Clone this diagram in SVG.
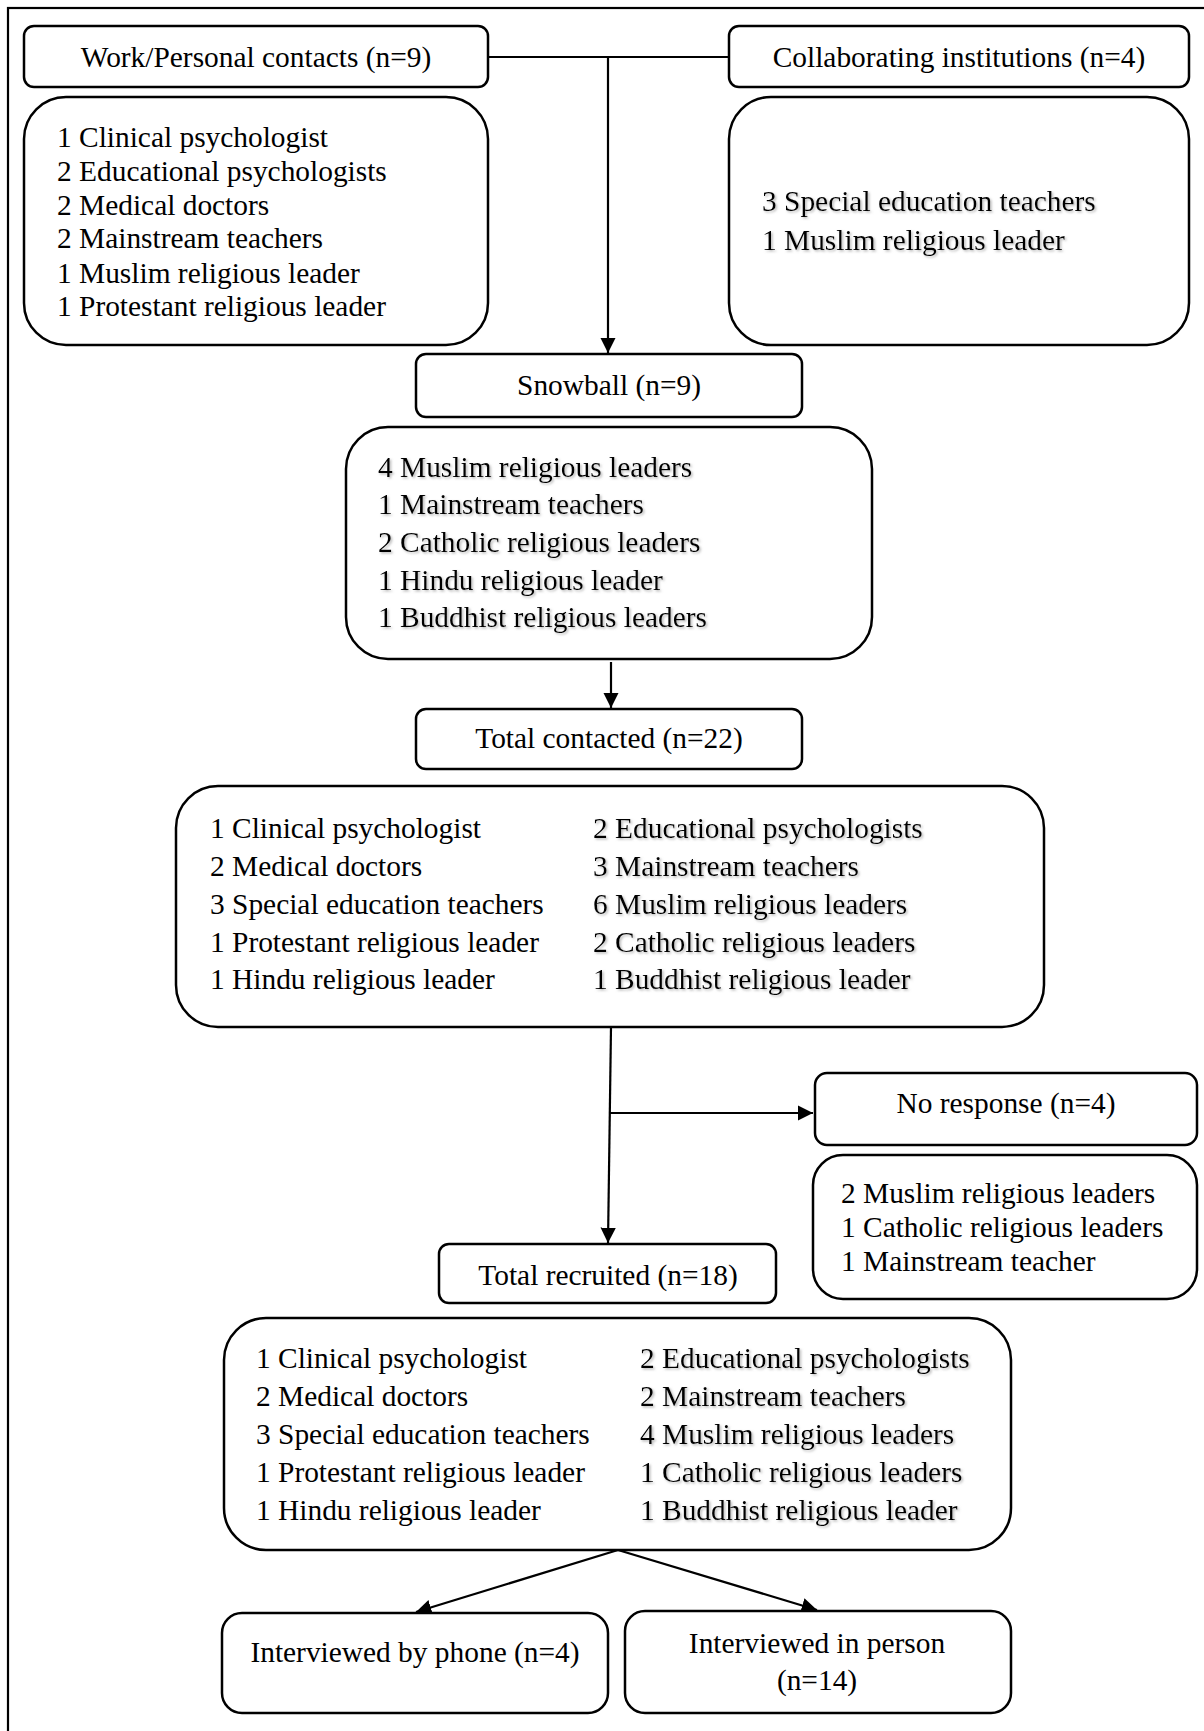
<svg xmlns="http://www.w3.org/2000/svg" width="1204" height="1731" viewBox="0 0 1204 1731">
<style>
.box{fill:#fff;stroke:#000;stroke-width:2.5}
.t{font-family:"Liberation Serif","Times New Roman",serif;font-size:29.4px;fill:#000}
.c{text-anchor:middle}
.ln{stroke:#000;stroke-width:2.2;fill:none}
.sh{filter:url(#shadow)}
</style>
<defs>
<marker id="arr" viewBox="0 0 10 10" refX="10" refY="5" markerWidth="7" markerHeight="7" markerUnits="strokeWidth" orient="auto">
<path d="M0,0 L10,5 L0,10 z" fill="#000"/>
</marker>
<filter id="shadow" x="-5%" y="-20%" width="110%" height="140%">
<feDropShadow dx="1.5" dy="1.5" stdDeviation="1.2" flood-color="#888" flood-opacity="0.6"/>
</filter>
</defs>
<rect x="8" y="8" width="1220" height="1750" fill="none" stroke="#000" stroke-width="2.2"/>

<g id="connectors">
<path class="ln" d="M489,57 H729"/>
<path class="ln" d="M608,57 V353" marker-end="url(#arr)"/>
<path class="ln" d="M611,662 V708" marker-end="url(#arr)"/>
<path class="ln" d="M611,1027 L608,1243" marker-end="url(#arr)"/>
<path class="ln" d="M610,1113 H813" marker-end="url(#arr)"/>
<path class="ln" d="M618,1550 L416,1612" marker-end="url(#arr)"/>
<path class="ln" d="M618,1550 L817,1610" marker-end="url(#arr)"/>
</g>

<g id="work-personal">
<rect class="box" x="24" y="26" width="464" height="61" rx="10"/>
<text class="t c" x="256" y="67">Work/Personal contacts (n=9)</text>
</g>
<g id="work-personal-list">
<rect class="box" x="24" y="97" width="464" height="248" rx="42"/>
<text class="t" x="57" y="147">1 Clinical psychologist</text>
<text class="t" x="57" y="181">2 Educational psychologists</text>
<text class="t" x="57" y="215">2 Medical doctors</text>
<text class="t" x="57" y="248">2 Mainstream teachers</text>
<text class="t" x="57" y="283">1 Muslim religious leader</text>
<text class="t" x="57" y="316">1 Protestant religious leader</text>
</g>

<g id="collaborating">
<rect class="box" x="729" y="26" width="460" height="61" rx="10"/>
<text class="t c" x="959" y="67">Collaborating institutions (n=4)</text>
</g>
<g id="collaborating-list">
<rect class="box" x="729" y="97" width="460" height="248" rx="42"/>
<g class="sh">
<text class="t" x="762" y="211">3 Special education teachers</text>
<text class="t" x="762" y="250">1 Muslim religious leader</text>
</g>
</g>

<g id="snowball">
<rect class="box" x="416" y="354" width="386" height="63" rx="10"/>
<text class="t c" x="609" y="395">Snowball (n=9)</text>
</g>
<g id="snowball-list">
<rect class="box" x="346" y="427" width="526" height="232" rx="42"/>
<g class="sh">
<text class="t" x="378" y="477">4 Muslim religious leaders</text>
<text class="t" x="378" y="514">1 Mainstream teachers</text>
<text class="t" x="378" y="552">2 Catholic religious leaders</text>
<text class="t" x="378" y="590">1 Hindu religious leader</text>
<text class="t" x="378" y="627">1 Buddhist religious leaders</text>
</g>
</g>

<g id="total-contacted">
<rect class="box" x="416" y="709" width="386" height="60" rx="10"/>
<text class="t c" x="609" y="748">Total contacted (n=22)</text>
</g>
<g id="total-contacted-list">
<rect class="box" x="176" y="786" width="868" height="241" rx="42"/>
<text class="t" x="210" y="838">1 Clinical psychologist</text>
<text class="t" x="210" y="876">2 Medical doctors</text>
<text class="t" x="210" y="914">3 Special education teachers</text>
<text class="t" x="210" y="952">1 Protestant religious leader</text>
<text class="t" x="210" y="989">1 Hindu religious leader</text>
<g class="sh">
<text class="t" x="593" y="838">2 Educational psychologists</text>
<text class="t" x="593" y="876">3 Mainstream teachers</text>
<text class="t" x="593" y="914">6 Muslim religious leaders</text>
<text class="t" x="593" y="952">2 Catholic religious leaders</text>
<text class="t" x="593" y="989">1 Buddhist religious leader</text>
</g>
</g>

<g id="no-response">
<rect class="box" x="815" y="1073" width="382" height="72" rx="12"/>
<text class="t c" x="1006" y="1113">No response (n=4)</text>
</g>
<g id="no-response-list">
<rect class="box" x="813" y="1155" width="384" height="144" rx="30"/>
<text class="t" x="841" y="1203">2 Muslim religious leaders</text>
<text class="t" x="841" y="1237">1 Catholic religious leaders</text>
<text class="t" x="841" y="1271">1 Mainstream teacher</text>
</g>

<g id="total-recruited">
<rect class="box" x="439" y="1244" width="337" height="59" rx="10"/>
<text class="t c" x="608" y="1285">Total recruited (n=18)</text>
</g>
<g id="total-recruited-list">
<rect class="box" x="224" y="1318" width="787" height="232" rx="42"/>
<text class="t" x="256" y="1368">1 Clinical psychologist</text>
<text class="t" x="256" y="1406">2 Medical doctors</text>
<text class="t" x="256" y="1444">3 Special education teachers</text>
<text class="t" x="256" y="1482">1 Protestant religious leader</text>
<text class="t" x="256" y="1520">1 Hindu religious leader</text>
<g class="sh">
<text class="t" x="640" y="1368">2 Educational psychologists</text>
<text class="t" x="640" y="1406">2 Mainstream teachers</text>
<text class="t" x="640" y="1444">4 Muslim religious leaders</text>
<text class="t" x="640" y="1482">1 Catholic religious leaders</text>
<text class="t" x="640" y="1520">1 Buddhist religious leader</text>
</g>
</g>

<g id="phone">
<rect class="box" x="222" y="1613" width="386" height="100" rx="20"/>
<text class="t c" x="415" y="1662">Interviewed by phone (n=4)</text>
</g>
<g id="in-person">
<rect class="box" x="625" y="1611" width="386" height="102" rx="20"/>
<text class="t c" x="817" y="1653">Interviewed in person</text>
<text class="t c" x="817" y="1690">(n=14)</text>
</g>
</svg>
